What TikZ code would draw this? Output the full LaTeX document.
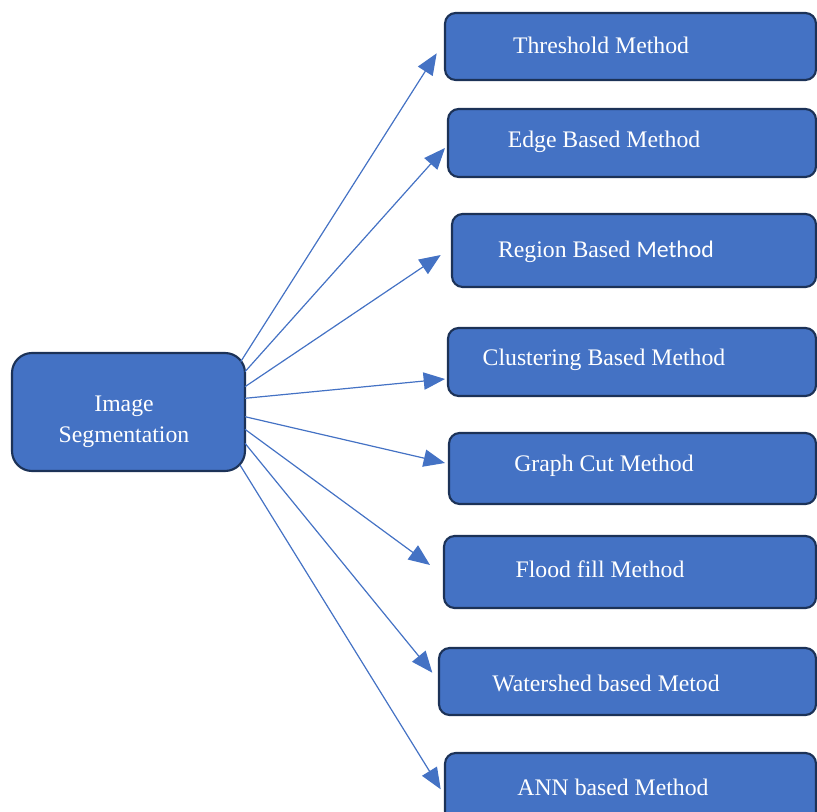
\documentclass[tikz,border=0pt]{standalone}
\usepackage{fontspec}
\setmainfont{Liberation Serif}
\newfontfamily\calfont{Carlito}
\usetikzlibrary{arrows.meta}
\definecolor{boxblue}{HTML}{4472C4}
\definecolor{boxline}{HTML}{1C3257}
\begin{document}
\begin{tikzpicture}[x=0.75pt,y=-0.75pt,>={Triangle[length=16pt,width=13pt]},line join=round,
	font=\fontsize{17.8}{23.25}\selectfont,
	box/.style={draw=boxline,fill=boxblue,line width=1.6pt,rounded corners=8pt,inner sep=0pt},
	lbl/.style={text=white,inner sep=0pt,align=center},
	con/.style={->,draw=boxblue,line width=0.9pt}]
	\useasboundingbox (0,0) rectangle (817,812);
	\clip (0,0) rectangle (817,812);
	% root
	\node[box,rounded corners=15pt,minimum width=174.75pt,minimum height=88.5pt] (seg) at (128.5,412) {};
	\node[lbl] (tseg) at (124,422) {Image\\Segmentation};
	% methods
	\node[box,minimum width=278.25pt,minimum height=50.25pt] (b1) at (630.5,46.5) {};
	\node[box,minimum width=276pt,minimum height=51pt] (b2) at (632,143) {};
	\node[box,minimum width=273pt,minimum height=54.75pt] (b3) at (634,250.5) {};
	\node[box,minimum width=276pt,minimum height=51pt] (b4) at (632,362) {};
	\node[box,minimum width=275.25pt,minimum height=53.25pt] (b5) at (632.5,468.5) {};
	\node[box,minimum width=279pt,minimum height=54pt] (b6) at (630,572) {};
	\node[box,minimum width=282.75pt,minimum height=50.25pt] (b7) at (627.5,681.5) {};
	\node[box,minimum width=278.25pt,minimum height=51.75pt] (b8) at (630.5,787.5) {};
	\node[lbl] (t1) at (601,45) {Threshold Method};
	\node[lbl] (t2) at (604,142) {Edge Based Method};
	\node[lbl] (t3) at (606,252) {Region Based {\calfont Method}};
	\node[lbl] (t4) at (604,360) {Clustering Based Method};
	\node[lbl] (t5) at (604,466) {Graph Cut Method};
	\node[lbl] (t6) at (600,569) {Flood fill Method};
	\node[lbl] (t7) at (606,683) {Watershed based Metod};
	\node[lbl] (t8) at (613,787) {ANN based Method};
	% arrows
	\coordinate (s1) at (240.7,361.7); \coordinate (e1) at (436.7,53.3);
	\coordinate (s2) at (245,371.7); \coordinate (e2) at (445,148);
	\coordinate (s3) at (245,386.7); \coordinate (e3) at (440.7,255);
	\coordinate (s4) at (245,398.3); \coordinate (e4) at (445,379);
	\coordinate (s5) at (245,416.7); \coordinate (e5) at (445,463);
	\coordinate (s6) at (245,429.3); \coordinate (e6) at (430,565);
	\coordinate (s7) at (245,443.3); \coordinate (e7) at (432.3,672.7);
	\coordinate (s8) at (240,465); \coordinate (e8) at (440.7,789.3);
	\foreach \i in {1,...,8} \draw[con] (s\i)--(e\i);
\end{tikzpicture}
\end{document}
